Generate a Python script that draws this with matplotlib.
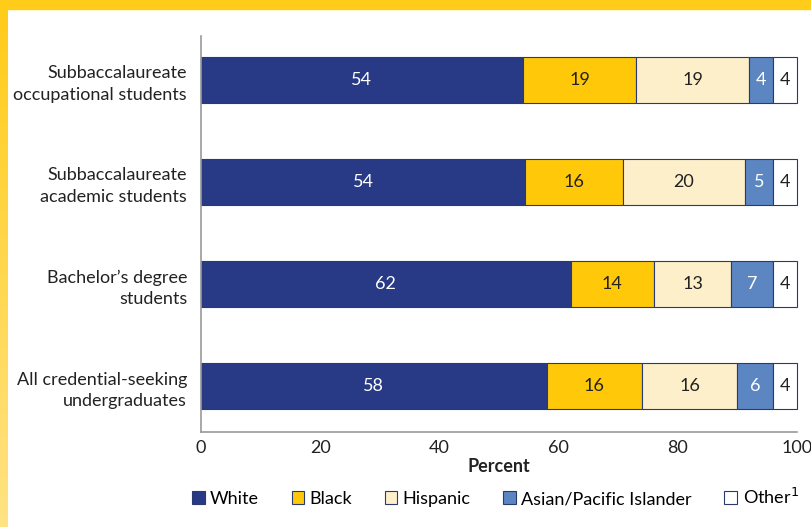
import numpy as np
import matplotlib.pyplot as plt
from matplotlib.patches import Patch, Rectangle
from matplotlib.colors import LinearSegmentedColormap

plt.rcParams['font.family'] = ['Lato', 'DejaVu Sans']

# data (bottom row first)
groups = ["All credential-seeking\nundergraduates",
          "Bachelor\u2019s degree\nstudents",
          "Subbaccalaureate\nacademic students",
          "Subbaccalaureate\noccupational students"]
white = [58, 62, 54.4, 54]
black = [16, 14, 16.4, 19]
hispanic = [16, 13, 20.4, 19]
asian = [6, 7, 4.8, 4]
other = [4, 4, 4.0, 4]

series = ["White", "Black", "Hispanic", "Asian/Pacific Islander", "Other$^{1}$"]
colors = ["#283a85", "#ffc90a", "#fdefc9", "#5b86c2", "#ffffff"]
text_colors = ["white", "#222222", "#222222", "white", "#222222"]

fig = plt.figure(figsize=(8.12, 5.27), dpi=100)

# yellow frame (top and left)
fig.patches.append(Rectangle((0, 1 - 9/527), 1, 9/527, transform=fig.transFigure,
                             color="#ffcc1a", zorder=0))
bg = fig.add_axes([0, 0, 8/812, 1 - 9/527])
grad = np.linspace(0, 1, 256).reshape(-1, 1)
cmap = LinearSegmentedColormap.from_list("y", ["#ffcc1a", "#ffe383"])
bg.imshow(grad, aspect="auto", cmap=cmap)
bg.axis("off")

fs = 13
ax = fig.add_axes([201/812, 1 - 432/527, 596/812, 396/527])
y = np.arange(len(groups))
left = np.zeros(len(groups))
for vals, name, c, tc in zip([white, black, hispanic, asian, other], series, colors, text_colors):
    bars = ax.barh(y, vals, left=left, height=0.45, color=c, edgecolor="#2b3a6e",
                   linewidth=0.8, label=name, clip_on=False)
    ax.bar_label(bars, fmt="%.0f", label_type="center", color=tc, fontsize=fs)
    left += np.array(vals)

ax.set_xlim(0, 100)
ax.set_ylim(-0.45, 3.43)
ax.set_yticks(y)
ax.set_yticklabels(groups, fontsize=fs, color="#222222", linespacing=1.4)
ax.set_xticks([0, 20, 40, 60, 80, 100])
ax.tick_params(axis="both", length=0, labelsize=fs, colors="#222222")
ax.tick_params(axis="y", pad=10)
ax.tick_params(axis="x", pad=6)
ax.set_xlabel("Percent", fontsize=fs, fontweight="bold", color="#222222", labelpad=1)
for s in ["top", "right"]:
    ax.spines[s].set_visible(False)
for s in ["left", "bottom"]:
    ax.spines[s].set_color("#999999")
    ax.spines[s].set_linewidth(1.2)

handles = [Patch(facecolor=c, edgecolor="#2b3a6e", linewidth=0.8) for c in colors]
fig.legend(handles, series, loc="center left", bbox_to_anchor=(192/812, 1 - 497/527),
           ncol=5, frameon=False, fontsize=fs, handlelength=0.7, handleheight=0.7,
           handletextpad=0.3, columnspacing=1.8, borderaxespad=0, borderpad=0)

fig.savefig("out.png", dpi=100)
